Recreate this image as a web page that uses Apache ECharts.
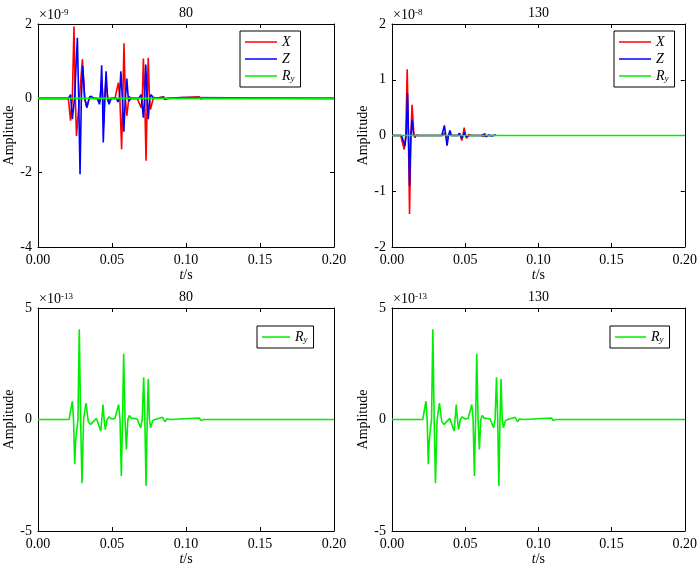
<!DOCTYPE html>
<html>
<head>
<meta charset="utf-8">
<script src="https://cdn.jsdelivr.net/npm/echarts@6/dist/echarts.min.js"></script>
<style>
html,body{margin:0;padding:0;background:#fff}
#main{width:700px;height:568px}
</style>
</head>
<body>
<div id="main"></div>
<script>
// 80 : X 分量 (×1e-9)
var tX80 = [0, 0.0205, 0.022, 0.0232, 0.0243, 0.0252, 0.026, 0.028, 0.030, 0.0315, 0.033, 0.035, 0.037,
  0.040, 0.0415, 0.0432, 0.0438, 0.0443, 0.045, 0.0458, 0.0475, 0.049,
  0.052, 0.0543, 0.0553, 0.0565, 0.0573, 0.0581, 0.059, 0.060, 0.0615, 0.063,
  0.067, 0.0697, 0.0705, 0.0712, 0.0721, 0.073, 0.0738, 0.0745, 0.0753, 0.076, 0.078, 0.080,
  0.085, 0.086, 0.088, 0.109, 0.110, 0.112, 0.2];
var vX80 = [0, 0, -0.6, 0, 1.93, 0, -1.01, 0, 1.05, 0, -0.25, 0.05, 0,
  0, -0.1, 0.5, 0, -0.7, 0, 0.45, -0.1, 0,
  0, 0.42, 0, -1.37, 0, 1.48, 0, -0.47, 0.05, 0,
  0, -0.25, 0, 1.07, 0, -1.68, 0, 1.09, 0, -0.3, 0.03, 0,
  0.04, -0.03, 0, 0.04, -0.02, 0, 0];

// 80 : Z 分量 (×1e-9)
var tZ80 = [0, 0.0205, 0.022, 0.0232, 0.0247, 0.0266, 0.0275, 0.0284, 0.0293, 0.0302, 0.0316, 0.033, 0.0345, 0.0356, 0.038,
  0.040, 0.0415, 0.0422, 0.043, 0.0436, 0.0441, 0.0452, 0.046, 0.047, 0.048, 0.0495,
  0.053, 0.054, 0.055, 0.056, 0.057, 0.058, 0.059, 0.060, 0.061, 0.0615, 0.063,
  0.068, 0.0697, 0.0712, 0.072, 0.0728, 0.0737, 0.0745, 0.0755, 0.0765, 0.078,
  0.085, 0.0855, 0.087, 0.097, 0.098, 0.2];
var vZ80 = [0, 0, 0.1, -0.56, 0, 1.63, 0, -2.04, 0, 0.87, 0, -0.25, 0, 0.06, 0,
  0, -0.16, 0, 0.89, 0, -1.19, 0, 0.73, 0, -0.16, 0,
  0, -0.1, 0, 0.73, 0, -0.9, 0, 0.53, 0, -0.07, 0,
  0, 0.1, -0.52, 0, 0.91, 0, -0.56, 0, 0.1, 0,
  0.03, -0.03, 0, 0.02, 0, 0];

// 130 : X 分量 (×1e-8)
var tX130 = [0, 0.006, 0.0083, 0.0094, 0.0104, 0.0112, 0.012, 0.0129, 0.0137, 0.015, 0.0158, 0.0165, 0.018,
  0.034, 0.036, 0.0375, 0.039, 0.041,
  0.045, 0.0465, 0.0477, 0.0485, 0.0493, 0.0502, 0.051, 0.0525, 0.054,
  0.061, 0.0625, 0.0633, 0.0645, 0.066, 0.07];
var vX130 = [0, 0, -0.25, 0, 1.19, 0, -1.41, 0, 0.55, 0, -0.04, 0.01, 0,
  0, 0.05, -0.05, 0.02, 0,
  0, 0.03, -0.09, 0, 0.14, 0, -0.05, 0.02, 0,
  0, -0.02, 0.04, -0.02, 0, 0];

// 130 : Z 分量 (×1e-8)
var tZ130 = [0, 0.0065, 0.0088, 0.0097, 0.0106, 0.0113, 0.012, 0.0129, 0.0137, 0.0148, 0.0155, 0.019,
  0.034, 0.0345, 0.0358, 0.0367, 0.0376, 0.0386, 0.0396, 0.0405, 0.0412, 0.043,
  0.045, 0.046, 0.0475, 0.0485, 0.0495, 0.0505, 0.053,
  0.061, 0.0625, 0.064, 0.066, 0.068, 0.0705, 0.071];
var vZ130 = [0, 0, -0.19, 0, 0.76, 0, -0.9, 0, 0.28, 0, -0.03, 0,
  0, -0.03, 0.18, 0, -0.18, 0, 0.09, 0, -0.02, 0,
  0, 0.04, -0.05, 0, 0.06, -0.02, 0,
  0, 0.02, -0.02, 0.01, -0.01, 0.01, 0];

// Ry 分量 (×1e-13)，80 与 130 波形相同
var tRy = [0, 0.021, 0.0216, 0.0232, 0.024, 0.0248, 0.0254, 0.026, 0.027, 0.0279, 0.0288, 0.0297, 0.0308, 0.0324, 0.034,
  0.0356, 0.038, 0.0395, 0.0408, 0.0424, 0.0431, 0.0439, 0.0447, 0.0455, 0.0467, 0.048, 0.050, 0.052,
  0.0545, 0.0554, 0.0563, 0.0571, 0.0579, 0.0588, 0.0597, 0.0607, 0.0617, 0.063, 0.0645, 0.067,
  0.0694, 0.0704, 0.0714, 0.0722, 0.073, 0.0738, 0.0745, 0.0753, 0.0761, 0.0775, 0.079,
  0.0842, 0.0857, 0.087, 0.090, 0.109, 0.110, 0.112, 0.2];
var vRy = [0, 0, 0.05, 0.82, 0, -2.01, -1.0, -0.6, 0, 4.05, 0, -2.86, 0, 0.74, -0.1,
  -0.22, -0.05, 0.05, 0.12, -0.52, 0, 0.67, 0, -0.45, 0, 0.12, 0.02, 0.05,
  0.67, 0, -2.53, 0, 2.95, 0, -1.34, 0, 0.18, 0.05, 0.05, 0.02,
  -0.37, 0, 1.89, 0, -2.98, 0, 1.82, 0, -0.37, -0.05, 0,
  0.1, -0.1, 0.02, 0, 0.07, -0.04, 0, 0];

// 刻度
var xTicks = [0, 0.2, 0.05];
var yTicks = [[-4, 2, 2], [-2, 2, 1], [-5, 5, 5], [-5, 5, 5]];
var titles = ['80', '130', '80', '130'];
var powers = ['-9', '-8', '-13', '-13'];

var FONT = 'Liberation Serif';
var chart = echarts.init(document.getElementById('main'));

function pairs(t, v, k){
  return t.map(function(tt, i){ return [tt, v[i] * (k || 1)]; });
}

var grids = [
  {left: 38, top: 24, width: 296, height: 223},
  {left: 392, top: 24, width: 296, height: 223},
  {left: 38, top: 308, width: 296, height: 223},
  {left: 392, top: 308, width: 296, height: 223}
];

var xAxis = [], yAxis = [], graphic = [];
grids.forEach(function(g, i){
  var line = {show: true, onZero: false, lineStyle: {color: '#000', width: 1}};
  var tick = {show: true, inside: true, length: 4, lineStyle: {color: '#000'}};
  // 底部 x 轴
  xAxis.push({
    type: 'value', gridIndex: i, min: xTicks[0], max: xTicks[1], interval: xTicks[2],
    axisLine: line, axisTick: tick, splitLine: {show: false},
    axisLabel: {color: '#000', fontFamily: FONT, fontSize: 14, margin: 6,
      formatter: function(v){ return v.toFixed(2); }},
    name: '{i|t}/s', nameLocation: 'middle', nameGap: 18,
    nameTextStyle: {color: '#000', fontFamily: FONT, fontSize: 14,
      rich: {i: {fontStyle: 'italic', fontFamily: FONT, fontSize: 14}}}
  });
  // 顶部镜像轴，兼作标题
  xAxis.push({
    type: 'value', gridIndex: i, position: 'top', min: xTicks[0], max: xTicks[1], interval: xTicks[2],
    axisLine: line, axisTick: tick, axisLabel: {show: false}, splitLine: {show: false},
    name: titles[i], nameLocation: 'middle', nameGap: 4,
    nameTextStyle: {color: '#000', fontFamily: FONT, fontSize: 14}
  });
  yAxis.push({
    type: 'value', gridIndex: i, min: yTicks[i][0], max: yTicks[i][1], interval: yTicks[i][2],
    axisLine: line, axisTick: tick, splitLine: {show: false},
    axisLabel: {color: '#000', fontFamily: FONT, fontSize: 14, margin: 6},
    name: 'Amplitude', nameLocation: 'middle', nameGap: 17,
    nameTextStyle: {color: '#000', fontFamily: FONT, fontSize: 14}
  });
  yAxis.push({
    type: 'value', gridIndex: i, position: 'right', min: yTicks[i][0], max: yTicks[i][1], interval: yTicks[i][2],
    axisLine: line, axisTick: tick, axisLabel: {show: false}, splitLine: {show: false}
  });
  graphic.push({
    type: 'text', x: g.left + 1, y: g.top - 9,
    style: {
      text: '{b|×10}{s|' + powers[i] + '}', textVerticalAlign: 'middle',
      rich: {
        b: {fontFamily: FONT, fontSize: 14, fill: '#000'},
        s: {fontFamily: FONT, fontSize: 9, fill: '#000', verticalAlign: 'top'}
      }
    }
  });
});

function wave(name, data, gi, color){
  return {
    name: name, type: 'line', xAxisIndex: gi * 2, yAxisIndex: gi * 2,
    data: data, showSymbol: false, symbol: 'none',
    lineStyle: {color: color, width: 1.6}, itemStyle: {color: color}
  };
}

var legendText = {
  color: '#000', fontFamily: FONT, fontSize: 14, lineHeight: 14,
  rich: {
    i: {fontFamily: FONT, fontStyle: 'italic', fontSize: 14, lineHeight: 14},
    s: {fontFamily: FONT, fontStyle: 'italic', fontSize: 9, lineHeight: 14, verticalAlign: 'bottom'}
  }
};
function legendFmt(name){
  return name === 'Ry' ? '{i|R}{s|y}' : '{i|' + name + '}';
}
function legend(left, top, names, w){
  return {
    left: left, top: top, orient: 'vertical', data: names, icon: 'rect',
    itemWidth: w, itemHeight: 1.5, itemGap: 3, padding: [4, 6, 4, 5],
    borderColor: '#000', borderWidth: 1, backgroundColor: '#fff',
    selectedMode: false, textStyle: legendText, formatter: legendFmt
  };
}

var option = {
  animation: false,
  backgroundColor: '#fff',
  grid: grids,
  xAxis: xAxis,
  yAxis: yAxis,
  graphic: graphic,
  legend: [
    legend(240, 31, ['X', 'Z', 'Ry'], 32),
    legend(614, 31, ['X', 'Z', 'Ry'], 32),
    legend(257, 326, ['Ry'], 28),
    legend(610, 326, ['Ry'], 31)
  ],
  series: [
    wave('X', pairs(tX80, vX80), 0, '#ff0000'),
    wave('Z', pairs(tZ80, vZ80), 0, '#0000ff'),
    wave('Ry', pairs(tRy, vRy, 1e-4), 0, '#00ee00'),
    wave('X', pairs(tX130, vX130), 1, '#ff0000'),
    wave('Z', pairs(tZ130, vZ130), 1, '#0000ff'),
    wave('Ry', pairs(tRy, vRy, 1e-5), 1, '#00ee00'),
    wave('Ry', pairs(tRy, vRy), 2, '#00ee00'),
    wave('Ry', pairs(tRy, vRy), 3, '#00ee00')
  ]
};

chart.setOption(option);
</script>
</body>
</html>
